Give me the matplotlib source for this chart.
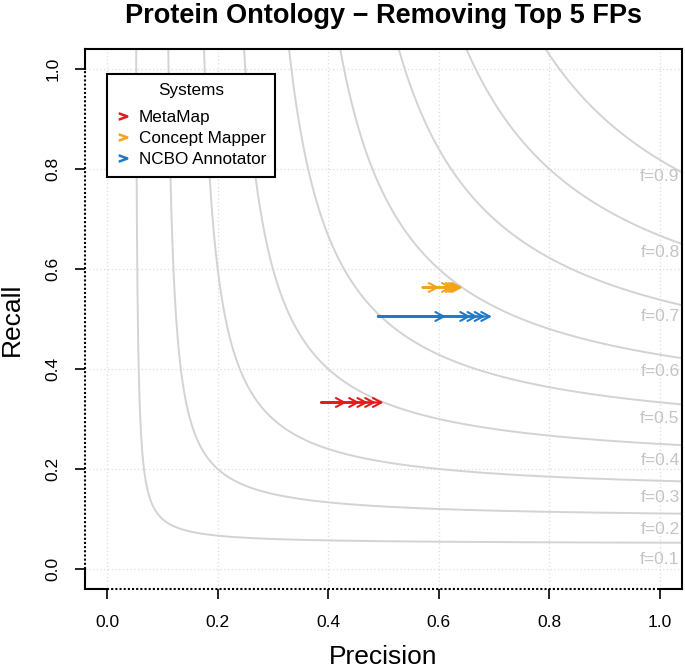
import numpy as np
import matplotlib
matplotlib.use("Agg")
import matplotlib.pyplot as plt
from matplotlib.lines import Line2D

plt.rcParams['font.family'] = ['Liberation Sans', 'DejaVu Sans']

# F-measure isolines
f_levels = [0.1, 0.2, 0.3, 0.4, 0.5, 0.6, 0.7, 0.8, 0.9]

# Systems: recall (constant), precision before, precisions after removing top 1..5 FPs
systems = ["MetaMap", "Concept Mapper", "NCBO Annotator"]
colors = ["#E41A1C", "#F5A31A", "#1F78C8"]
recall = [0.333, 0.563, 0.505]
prec_start = [0.3875, 0.571, 0.490]
prec_end = [
    [0.433, 0.457, 0.472, 0.486, 0.500],
    [0.601, 0.625, 0.632, 0.638, 0.643],
    [0.613, 0.658, 0.671, 0.684, 0.696],
]
ticks = [0.0, 0.2, 0.4, 0.6, 0.8, 1.0]

fig = plt.figure(figsize=(6.85, 6.69), dpi=100)
ax = fig.add_axes([0.1241, 0.1196, 0.8715, 0.8072])
ax.set_xlim(-0.04, 1.04)
ax.set_ylim(-0.04, 1.04)

# grid
for t in ticks:
    ax.axvline(t, color="#DCDCDC", lw=0.9, ls=(0, (1, 2)), zorder=0)
    ax.axhline(t, color="#DCDCDC", lw=0.9, ls=(0, (1, 2)), zorder=0)

# f curves
for f in f_levels:
    p = np.linspace(f / 2 + 1e-5, 1.05, 4000)
    r = f * p / (2 * p - f)
    ax.plot(p, r, color="#D3D3D3", lw=1.4, zorder=1)
    ax.annotate("f=%.1f" % f, xy=(1.0, f / (2 - f)), xytext=(0, -6.5),
                textcoords="offset points", ha="center", va="top",
                color="#C4C4C4", fontsize=12.5, zorder=2)

# arrows
for rec, p0, ends, c in zip(recall, prec_start, prec_end, colors):
    for p1 in ends:
        ax.annotate("", xy=(p1, rec), xytext=(p0, rec),
                    arrowprops=dict(arrowstyle="->,head_length=0.6,head_width=0.32",
                                    color=c, lw=1.5, shrinkA=0, shrinkB=0),
                    zorder=3)

# spines: solid box, dotted axis line between first and last tick
for s in ["left", "bottom"]:
    ax.spines[s].set_visible(False)
for s in ["top", "right"]:
    ax.spines[s].set_linewidth(1.5)
ax.plot([-0.04, 0.0], [-0.04, -0.04], color="black", lw=1.5, clip_on=False, zorder=5)
ax.plot([1.0, 1.04], [-0.04, -0.04], color="black", lw=1.5, clip_on=False, zorder=5)
ax.plot([0.0, 1.0], [-0.04, -0.04], color="black", lw=1.5, ls=(0, (1, 1)), clip_on=False, zorder=5)
ax.plot([-0.04, -0.04], [-0.04, 0.0], color="black", lw=1.5, clip_on=False, zorder=5)
ax.plot([-0.04, -0.04], [1.0, 1.04], color="black", lw=1.5, clip_on=False, zorder=5)
ax.plot([-0.04, -0.04], [0.0, 1.0], color="black", lw=1.5, ls=(0, (1, 1)), clip_on=False, zorder=5)

ax.set_xticks(ticks)
ax.set_yticks(ticks)
ax.set_xticklabels(["%.1f" % t for t in ticks])
ax.set_yticklabels(["%.1f" % t for t in ticks], rotation=90, va="center")
ax.tick_params(axis="x", length=7.5, width=1.2, pad=11, labelsize=12.5)
ax.tick_params(axis="y", length=7.5, width=1.2, pad=10, labelsize=12.5)

ax.set_xlabel("Precision", fontsize=19, labelpad=11)
ax.set_ylabel("Recall", fontsize=19, labelpad=15.5)
ax.set_title("Protein Ontology \u2212 Removing Top 5 FPs", fontsize=19.5, fontweight="bold", pad=19)

handles = [Line2D([], [], ls="none", marker="$>$", color=c, markersize=6) for c in colors]
leg = ax.legend(handles, systems, title="Systems", loc="upper left",
                bbox_to_anchor=(0.0, 0.99), bbox_transform=ax.transData,
                fontsize=12.3, title_fontsize=12.3, fancybox=False, framealpha=1,
                edgecolor="black", borderpad=0.55, handlelength=0.8,
                handletextpad=0.5, labelspacing=0.35, borderaxespad=0)
leg._legend_box.sep = 8.6  # extra gap under the legend title
leg.get_frame().set_linewidth(1.5)
leg.set_zorder(10)

fig.savefig("out.png", dpi=100)
